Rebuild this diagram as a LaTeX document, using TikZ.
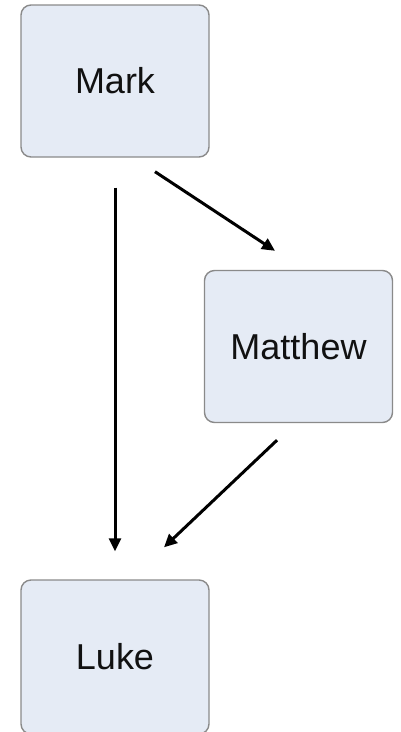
\documentclass[tikz,border=0pt]{standalone}
\usepackage{fontspec}
\setmainfont{Liberation Sans}
\usetikzlibrary{arrows.meta}
\definecolor{boxfill}{HTML}{E5EBF5}
\definecolor{boxline}{HTML}{8A8A8A}
\definecolor{txt}{HTML}{111111}
\tikzset{
  gbox/.style={draw=boxline, line width=1.4pt, fill=boxfill, rounded corners=10pt,
    minimum width=188pt, minimum height=152pt, inner sep=0pt,
    font=\fontsize{36}{40}\selectfont, text=txt},
  arr/.style={line width=3pt, black, -{Triangle[length=13pt,width=12pt]}}
}
\begin{document}
\begin{tikzpicture}[x=1pt,y=-1pt]
\useasboundingbox (0,0) rectangle (400,732);
\clip (0,0) rectangle (400,732);
\node[gbox] (Mark) at (115,81) {Mark};
\node[gbox] (Matthew) at (298.5,346.5) {Matthew};
\node[gbox, minimum height=154pt] (Luke) at (115,657) {Luke};
\draw[arr] ([yshift=-30pt]Mark.south) -- ([yshift=28pt]Luke.north);
\draw[arr] ([xshift=40pt,yshift=-14pt]Mark.south) -- ([xshift=-23.5pt,yshift=19pt]Matthew.north);
\draw[arr] ([xshift=-21.5pt,yshift=-17pt]Matthew.south) -- ([xshift=49pt,yshift=32pt]Luke.north);
\end{tikzpicture}
\end{document}
